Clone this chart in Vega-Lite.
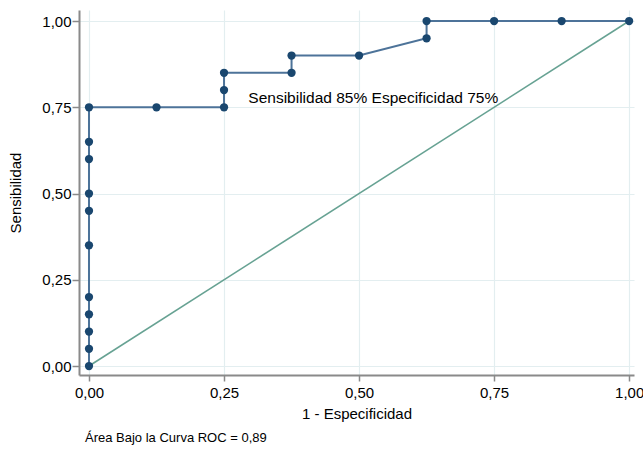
{
  "$schema": "https://vega.github.io/schema/vega-lite/v6.json",
  "width": 555,
  "height": 365,
  "autosize": {"type": "none"},
  "padding": {"left": 79, "top": 10, "right": 9, "bottom": 75},
  "background": "white",
  "config": {
    "font": "Liberation Sans",
    "view": {"stroke": null}
  },
  "title": {
    "text": "Área Bajo la Curva ROC = 0,89",
    "orient": "bottom",
    "anchor": "start",
    "frame": "group",
    "fontSize": 13,
    "fontWeight": "normal",
    "color": "#000000",
    "offset": 11,
    "dx": 6
  },
  "datasets": {
    "roc": [
      {"x": 0, "y": 0},
      {"x": 0, "y": 0.05},
      {"x": 0, "y": 0.10},
      {"x": 0, "y": 0.15},
      {"x": 0, "y": 0.20},
      {"x": 0, "y": 0.35},
      {"x": 0, "y": 0.45},
      {"x": 0, "y": 0.50},
      {"x": 0, "y": 0.60},
      {"x": 0, "y": 0.65},
      {"x": 0, "y": 0.75},
      {"x": 0.125, "y": 0.75},
      {"x": 0.25, "y": 0.75},
      {"x": 0.25, "y": 0.80},
      {"x": 0.25, "y": 0.85},
      {"x": 0.375, "y": 0.85},
      {"x": 0.375, "y": 0.90},
      {"x": 0.5, "y": 0.90},
      {"x": 0.625, "y": 0.95},
      {"x": 0.625, "y": 1.0},
      {"x": 0.75, "y": 1.0},
      {"x": 0.875, "y": 1.0},
      {"x": 1.0, "y": 1.0}
    ],
    "diag": [
      {"x": 0, "y": 0},
      {"x": 1, "y": 1}
    ],
    "note": [
      {"x": 0.295, "y": 0.777, "label": "Sensibilidad 85% Especificidad 75%"}
    ]
  },
  "layer": [
    {
      "data": {"name": "diag"},
      "mark": {"type": "line", "color": "#67a293", "strokeWidth": 1.6},
      "encoding": {
        "x": {
          "field": "x", "type": "quantitative",
          "scale": {"domain": [-0.0185, 1.009], "nice": false, "zero": false},
          "axis": {
            "title": "1 - Especificidad",
            "values": [0, 0.25, 0.5, 0.75, 1],
            "labelExpr": "replace(format(datum.value, '.2f'), '.', ',')",
            "labelFontSize": 15,
            "titleFontSize": 15,
            "titleFontWeight": "normal",
            "labelColor": "#000000",
            "titleColor": "#000000",
            "domainColor": "#8a8a8a",
            "domainWidth": 2,
            "tickColor": "#8a8a8a",
            "tickWidth": 1.5,
            "tickSize": 6,
            "labelPadding": 4,
            "titlePadding": 6,
            "labelOverlap": false,
            "labelBound": false,
            "gridColor": "#e3eef0",
            "gridWidth": 1.2
          }
        },
        "y": {
          "field": "y", "type": "quantitative",
          "scale": {"domain": [-0.026, 1.032], "nice": false, "zero": false},
          "axis": {
            "title": "Sensibilidad",
            "values": [0, 0.25, 0.5, 0.75, 1],
            "labelExpr": "replace(format(datum.value, '.2f'), '.', ',')",
            "labelFontSize": 15,
            "titleFontSize": 15,
            "titleFontWeight": "normal",
            "labelColor": "#000000",
            "titleColor": "#000000",
            "domainColor": "#8a8a8a",
            "domainWidth": 2,
            "tickColor": "#8a8a8a",
            "tickWidth": 1.5,
            "tickSize": 7,
            "labelPadding": 1,
            "titlePadding": 18,
            "gridColor": "#e3eef0",
            "gridWidth": 1.2
          }
        }
      }
    },
    {
      "data": {"name": "roc"},
      "mark": {"type": "line", "color": "#4d7399", "strokeWidth": 2},
      "encoding": {
        "x": {"field": "x", "type": "quantitative"},
        "y": {"field": "y", "type": "quantitative"},
        "order": {"value": 0}
      }
    },
    {
      "data": {"name": "roc"},
      "mark": {"type": "circle", "color": "#1a476f", "opacity": 1, "size": 68},
      "encoding": {
        "x": {"field": "x", "type": "quantitative"},
        "y": {"field": "y", "type": "quantitative"}
      }
    },
    {
      "data": {"name": "note"},
      "mark": {"type": "text", "align": "left", "baseline": "middle", "fontSize": 15.5, "color": "#000000"},
      "encoding": {
        "x": {"field": "x", "type": "quantitative"},
        "y": {"field": "y", "type": "quantitative"},
        "text": {"field": "label"}
      }
    }
  ]
}
